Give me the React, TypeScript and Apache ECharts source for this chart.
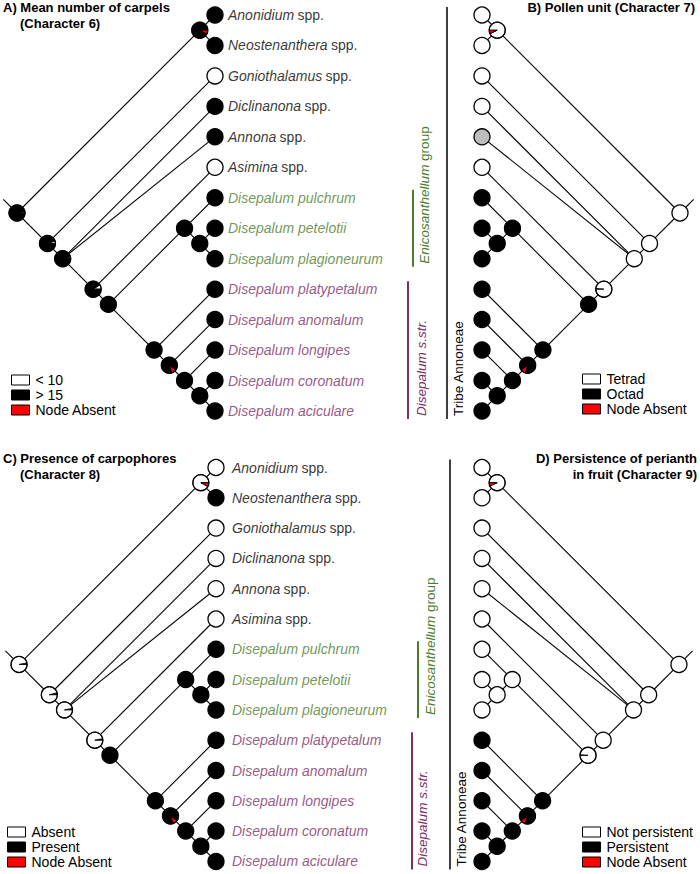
import React, { useEffect, useRef } from 'react';
import * as echarts from 'echarts';

const F = '"Liberation Sans", Arial, Helvetica, sans-serif';

// ---------- data ----------
const taxa = ['Anonidium', 'Neostenanthera', 'Goniothalamus', 'Diclinanona', 'Annona', 'Asimina',
  'Disepalum pulchrum', 'Disepalum petelotii', 'Disepalum plagioneurum', 'Disepalum platypetalum',
  'Disepalum anomalum', 'Disepalum longipes', 'Disepalum coronatum', 'Disepalum aciculare'];
const taxaSuffix = ['spp.', 'spp.', 'spp.', 'spp.', 'spp.', 'spp.', '', '', '', '', '', '', '', ''];
const taxaGroup = ['out', 'out', 'out', 'out', 'out', 'out', 'enic', 'enic', 'enic', 'dis', 'dis', 'dis', 'dis', 'dis'];

// tree topology: internal nodes and their children (number = leaf index, string = internal node)
const nodeNames = ['R', 'C1', 'N2', 'N3', 'N4', 'N5', 'E', 'E2', 'D', 'D2', 'D3', 'D4'];
const nodeChildren: (number | string)[][] = [
  ['C1', 'N2'], [0, 1], [2, 'N3'], [3, 4, 'N4'], [5, 'N5'], ['E', 'D'],
  [6, 'E2'], [7, 8], [9, 'D2'], [10, 'D3'], [11, 'D4'], [12, 13],
];

// states: 0 = white, 1 = black, 2 = red (node absent), 3 = grey
const leafStatesA = [1, 1, 0, 1, 1, 0, 1, 1, 1, 1, 1, 1, 1, 1];
const leafStatesB = [0, 0, 0, 0, 3, 0, 1, 1, 1, 1, 1, 1, 1, 1];
const leafStatesC = [0, 1, 0, 0, 0, 0, 1, 1, 1, 1, 1, 1, 1, 1];
const leafStatesD = [0, 0, 0, 0, 0, 0, 0, 0, 0, 1, 1, 1, 1, 1];

// pie slices of internal nodes (order of nodeNames): [state, fraction]
const nodePiesA = [
  [[0, 0.03], [1, 0.97]], [[1, 0.92], [2, 0.08]], [[0, 0.05], [1, 0.95]], [[0, 0.04], [1, 0.96]],
  [[0, 0.09], [1, 0.91]], [[1, 1]], [[1, 1]], [[1, 1]], [[1, 1]],
  [[1, 0.8], [2, 0.1], [1, 0.1]], [[1, 1]], [[1, 1]],
];
const nodePiesB = [
  [[0, 1]], [[0, 0.93], [2, 0.07]], [[0, 1]], [[0, 1]],
  [[1, 0.01], [0, 0.99]], [[1, 1]], [[1, 1]], [[1, 1]], [[1, 1]],
  [[1, 0.8], [2, 0.1], [1, 0.1]], [[1, 1]], [[1, 1]],
];
const nodePiesC = [
  [[1, 0.03], [0, 0.97]], [[0, 0.92], [2, 0.08]], [[1, 0.04], [0, 0.96]], [[1, 0.03], [0, 0.97]],
  [[1, 0.03], [0, 0.97]], [[1, 1]], [[1, 1]], [[1, 1]], [[1, 1]],
  [[1, 0.8], [2, 0.1], [1, 0.1]], [[1, 1]], [[1, 1]],
];
const nodePiesD = [
  [[0, 1]], [[0, 0.93], [2, 0.07]], [[0, 1]], [[0, 1]], [[0, 1]],
  [[1, 0.01], [0, 0.99]], [[0, 1]], [[0, 1]], [[1, 1]],
  [[1, 0.8], [2, 0.1], [1, 0.1]], [[1, 1]], [[1, 1]],
];

const legendA = ['< 10', '> 15', 'Node Absent'];
const legendB = ['Tetrad', 'Octad', 'Node Absent'];
const legendC = ['Absent', 'Present', 'Node Absent'];
const legendD = ['Not persistent', 'Persistent', 'Node Absent'];
const legendStates: Record<string, number> = {
  '< 10': 0, '> 15': 1, 'Tetrad': 0, 'Octad': 1, 'Absent': 0, 'Present': 1,
  'Not persistent': 0, 'Persistent': 1, 'Node Absent': 2,
};

const titleA = ['A) Mean number of carpels', '(Character 6)'];
const titleB = ['B) Pollen unit (Character 7)'];
const titleC = ['C) Presence of carpophores', '(Character 8)'];
const titleD = ['D) Persistence of perianth', 'in fruit (Character 9)'];

const bracketFrom = [0, 6, 9];
const bracketTo = [13, 8, 13];
const bracketText = ['{t|Tribe Annoneae}', '{gi|Enicosanthellum} {g|group}', '{pi|Disepalum s.str.}'];

// ---------- styles ----------
const STATE_COLORS = ['#ffffff', '#000000', '#ff0000', '#bdbdbd'];
const GREEN = '#4b7d2b';
const PURPLE = '#7e2d66';
const R = 8;

// ---------- layout from topology ----------
function spanOf(c: number | string): [number, number] {
  if (typeof c === 'number') return [c, c];
  const idx = nodeNames.indexOf(c);
  let mn = Infinity, mx = -Infinity;
  for (const ch of nodeChildren[idx]) {
    const [a, b] = spanOf(ch);
    mn = Math.min(mn, a); mx = Math.max(mx, b);
  }
  return [mn, mx];
}
function posOf(c: number | string): [number, number] {
  const [a, b] = spanOf(c);
  return [b - a, (a + b) / 2]; // [distance from tips, row]
}

const edges: number[][] = [];
nodeNames.forEach((n, i) => {
  const p = posOf(n);
  nodeChildren[i].forEach((ch) => {
    const q = posOf(ch);
    edges.push([p[0], p[1], q[0], q[1]]);
  });
});
{
  const rp = posOf('R');
  edges.push([rp[0], rp[1], rp[0] + 0.9, rp[1] - 0.45]); // root stem
}
const nodePositions: number[][] = [
  ...nodeNames.map((n) => posOf(n)),
  ...taxa.map((_, i) => posOf(i)),
];

function pieRender(pies: number[][][], mirrored: boolean) {
  return (params: any, api: any) => {
    const c = api.coord([api.value(0), api.value(1)]);
    const slices = pies[params.dataIndex];
    const children: any[] = [];
    if (slices.length === 1) {
      children.push({
        type: 'circle', shape: { cx: c[0], cy: c[1], r: R },
        style: { fill: STATE_COLORS[slices[0][0]], stroke: '#000', lineWidth: 1.3 },
      });
    } else {
      let acc = 0;
      for (const [s, f] of slices) {
        const a0 = acc * 2 * Math.PI;
        const a1 = (acc + f) * 2 * Math.PI;
        acc += f;
        const start = mirrored ? Math.PI + a0 : -a1;
        const end = mirrored ? Math.PI + a1 : -a0;
        children.push({
          type: 'sector',
          shape: { cx: c[0], cy: c[1], r0: 0, r: R, startAngle: start, endAngle: end, clockwise: true },
          style: { fill: STATE_COLORS[s], stroke: '#000', lineWidth: 0.9 },
        });
      }
      children.push({
        type: 'circle', shape: { cx: c[0], cy: c[1], r: R },
        style: { fill: 'none', stroke: '#000', lineWidth: 1.3 },
      });
    }
    return { type: 'group', children };
  };
}

const edgeRender = (params: any, api: any) => {
  const p1 = api.coord([api.value(0), api.value(1)]);
  const p2 = api.coord([api.value(2), api.value(3)]);
  return {
    type: 'line',
    shape: { x1: p1[0], y1: p1[1], x2: p2[0], y2: p2[1] },
    style: { stroke: '#000', lineWidth: 1.1 },
  };
};

const annoRich = {
  t: { fontSize: 13.5, fontFamily: F, color: '#000' },
  gi: { fontSize: 13.5, fontFamily: F, color: GREEN, fontStyle: 'italic' },
  g: { fontSize: 13.5, fontFamily: F, color: GREEN },
  pi: { fontSize: 13.5, fontFamily: F, color: PURPLE, fontStyle: 'italic' },
};
const bracketColors = ['#000', GREEN, PURPLE];
const bracketWidths = [1.5, 2, 2];

function annoRender(lineOff: number[], textOff: number[]) {
  return (params: any, api: any) => {
    const i = params.dataIndex;
    const top = api.coord([0, bracketFrom[i]]);
    const bot = api.coord([0, bracketTo[i]]);
    const xl = top[0] + lineOff[i];
    const xt = top[0] + textOff[i];
    const y1 = top[1] - 8;
    const y2 = bot[1] + 8;
    return {
      type: 'group',
      children: [
        { type: 'line', shape: { x1: xl, y1, x2: xl, y2 }, style: { stroke: bracketColors[i], lineWidth: bracketWidths[i] } },
        {
          type: 'text', x: xt, y: y2 - 3, rotation: Math.PI / 2,
          style: {
            text: bracketText[i], rich: annoRich, align: 'left', verticalAlign: 'middle',
            fontSize: 13.5, fontFamily: F, fill: bracketColors[i],
          },
        },
      ],
    };
  };
}

const labelRich = {
  i: { fontSize: 14, fontFamily: F, color: '#000', fontStyle: 'italic' },
  n: { fontSize: 14, fontFamily: F, color: '#000' },
  ig: { fontSize: 14, fontFamily: F, color: GREEN, fontStyle: 'italic' },
  ip: { fontSize: 14, fontFamily: F, color: PURPLE, fontStyle: 'italic' },
};
const labelFormatter = (p: any) => {
  const i = p.dataIndex;
  const g = taxaGroup[i];
  const key = g === 'enic' ? 'ig' : g === 'dis' ? 'ip' : 'i';
  return `{${key}|${taxa[i]}}` + (taxaSuffix[i] ? ` {n|${taxaSuffix[i]}}` : '');
};

export default function App() {
  const ref = useRef<HTMLDivElement>(null);
  useEffect(() => {
    if (!ref.current) return;
    const chart = echarts.init(ref.current, undefined, { renderer: 'svg' });

    const panels = [
      { leaves: leafStatesA, pies: nodePiesA, mirrored: false, labels: true, labelDist: 5 },
      { leaves: leafStatesB, pies: nodePiesB, mirrored: true, labels: false, labelDist: 0 },
      { leaves: leafStatesC, pies: nodePiesC, mirrored: false, labels: true, labelDist: 8 },
      { leaves: leafStatesD, pies: nodePiesD, mirrored: true, labels: false, labelDist: 0 },
    ];
    const uA = 15.23, uC = 15.15;
    const grids = [
      { left: 215 - 14 * uA, top: 15, width: 14 * uA, height: 13 * 30.46 },
      { left: 482, top: 15, width: 14 * uA, height: 13 * 30.46 },
      { left: 216 - 14 * uC, top: 467.5, width: 14 * uC, height: 13 * 30.3 },
      { left: 482, top: 467.5, width: 14 * uC, height: 13 * 30.3 },
    ];
    const annoOffsets: Record<number, [number[], number[]]> = {
      1: [[-35, -69, -74], [-24, -58, -61]],
      3: [[-32, -64, -70], [-21, -52, -60]],
    };

    const series: any[] = [];
    panels.forEach((p, gi) => {
      const allPies = [...p.pies, ...p.leaves.map((s) => [[s, 1]])];
      series.push({
        type: 'custom', xAxisIndex: gi, yAxisIndex: gi, z: 1, silent: true,
        data: edges, renderItem: edgeRender, encode: { x: [0, 2], y: [1, 3] },
      });
      series.push({
        type: 'custom', xAxisIndex: gi, yAxisIndex: gi, z: 2, silent: true,
        data: nodePositions, renderItem: pieRender(allPies, p.mirrored), encode: { x: 0, y: 1 },
      });
      if (p.labels) {
        series.push({
          type: 'scatter', xAxisIndex: gi, yAxisIndex: gi, z: 3, silent: true,
          symbolSize: 16, itemStyle: { color: 'rgba(0,0,0,0)' },
          data: taxa.map((_, i) => posOf(i)),
          label: {
            show: true, position: 'right', distance: p.labelDist,
            formatter: labelFormatter, rich: labelRich,
          },
        });
      }
      if (annoOffsets[gi]) {
        series.push({
          type: 'custom', xAxisIndex: gi, yAxisIndex: gi, z: 3, silent: true,
          data: bracketFrom.map((f, i) => [0, f, bracketTo[i]]),
          renderItem: annoRender(annoOffsets[gi][0], annoOffsets[gi][1]),
        });
      }
    });
    Object.keys(legendStates).forEach((name) => {
      series.push({
        type: 'scatter', name, xAxisIndex: 0, yAxisIndex: 0, data: [],
        itemStyle: { color: STATE_COLORS[legendStates[name]], borderColor: '#000', borderWidth: 1, opacity: 1 },
      });
    });

    const legendBase = {
      orient: 'vertical', icon: 'rect', itemWidth: 18, itemHeight: 10, itemGap: 1,
      padding: 0, selectedMode: false,
      itemStyle: { borderColor: '#000', borderWidth: 1, opacity: 1 },
      textStyle: { fontSize: 14, fontFamily: F, color: '#000', padding: [0, 0, 0, 1] },
    };
    const titleStyle = { fontSize: 13, fontWeight: 'bold', fontFamily: F, color: '#000' };

    chart.setOption({
      animation: false,
      backgroundColor: '#fff',
      title: [
        { text: titleA[0], left: 3, top: 1, padding: 0, textStyle: titleStyle },
        { text: titleA[1], left: 20, top: 17, padding: 0, textStyle: titleStyle },
        { text: titleB[0], right: 5, top: 1, padding: 0, textStyle: titleStyle },
        { text: titleC[0], left: 3, top: 452, padding: 0, textStyle: titleStyle },
        { text: titleC[1], left: 20, top: 468, padding: 0, textStyle: titleStyle },
        { text: titleD[0], right: 3, top: 452, padding: 0, textStyle: titleStyle },
        { text: titleD[1], right: 3, top: 468, padding: 0, textStyle: titleStyle },
      ],
      legend: [
        { ...legendBase, data: legendA, left: 11, top: 373 },
        { ...legendBase, data: legendB, left: 582, top: 372 },
        { ...legendBase, data: legendC, left: 7, top: 825 },
        { ...legendBase, data: legendD, left: 582, top: 825 },
      ],
      grid: grids.map((g) => ({ ...g, containLabel: false, show: false })),
      xAxis: panels.map((p, i) => ({
        type: 'value', gridIndex: i, min: 0, max: 14, inverse: !p.mirrored, show: false,
      })),
      yAxis: panels.map((_, i) => ({
        type: 'value', gridIndex: i, min: 0, max: 13, inverse: true, show: false,
      })),
      series,
    });
    return () => chart.dispose();
  }, []);
  return (
    <div
      ref={ref}
      style={{ position: 'fixed', left: 0, top: 0, width: 700, height: 874, background: '#fff' }}
    />
  );
}
